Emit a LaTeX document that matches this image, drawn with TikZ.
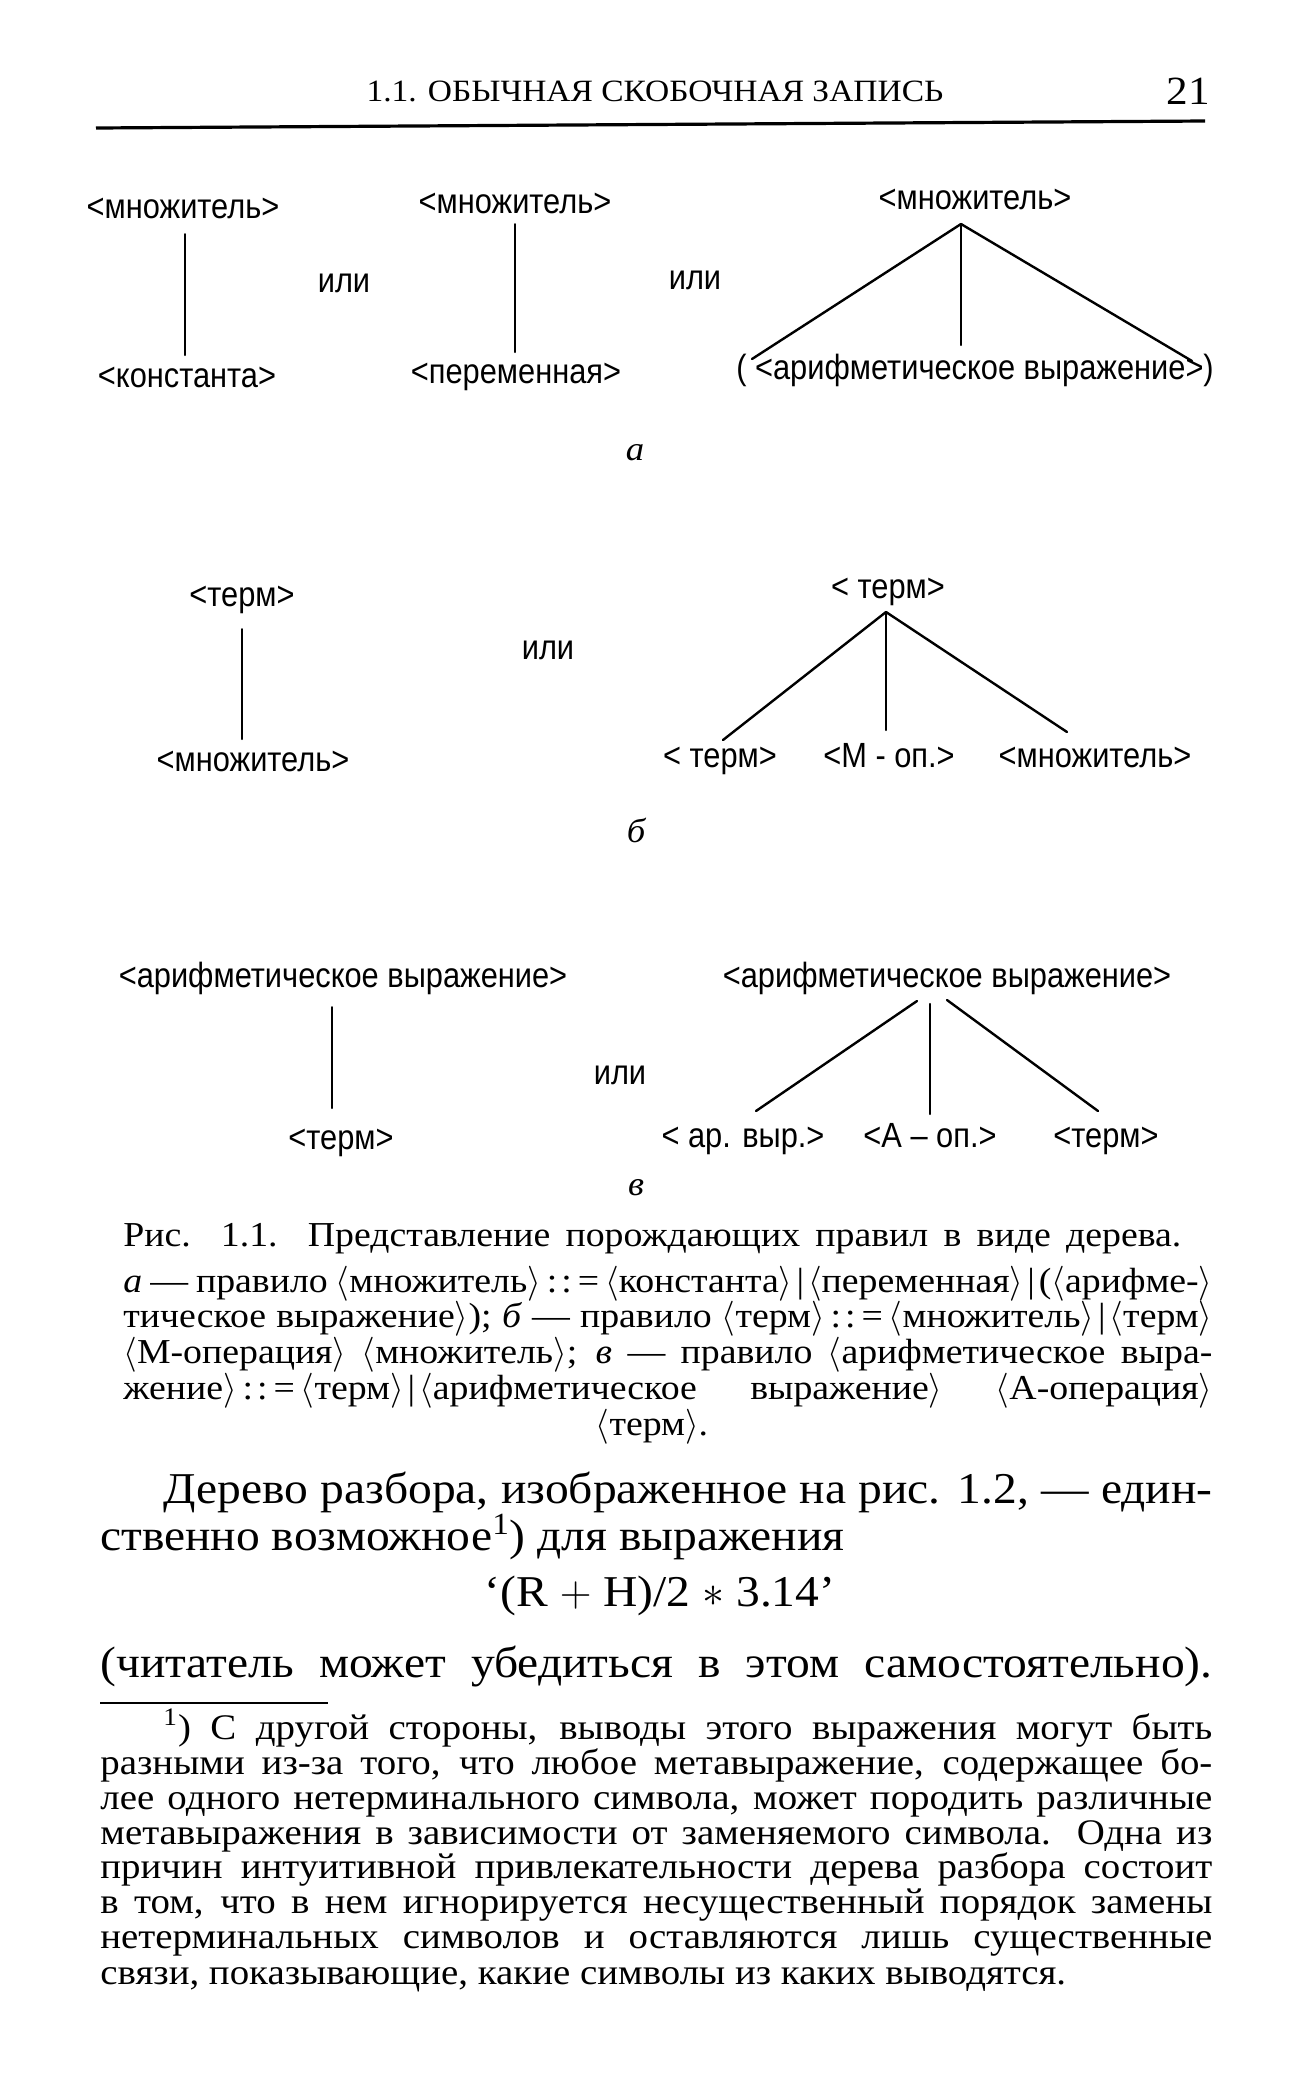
\RequirePackage{fix-cm}
\documentclass[tikz,border=0pt]{standalone}
\usepackage{fontspec}
\setmainfont{Liberation Serif}[FakeStretch=1.08]
\newfontfamily\labfont{Liberation Sans}[FakeStretch=0.88]
\newcommand\abr[1]{\(\langle\)#1\(\rangle\)}
\newcommand\myceq{\kern3pt:\kern2pt:\kern3pt=\kern3pt}
\newcommand\myvb{\kern2pt|\kern2pt}
\tikzset{
  lab/.style={font=\labfont\fontsize{17.5}{20}\selectfont, inner sep=0pt, text height=12pt, text depth=3.5pt},
  edge/.style={line width=1pt, line cap=round},
  tedge/.style={line width=1.2pt, line cap=round},
  sublab/.style={font=\itshape\fontsize{17}{20}\selectfont, inner sep=0pt},
  bodyl/.style={font=\fontsize{22}{24}\selectfont, anchor=base west, inner sep=0pt, text height=15pt, text depth=4pt},
  capl/.style={font=\fontsize{17.5}{18}\selectfont, anchor=base west, inner sep=0pt, text height=12pt, text depth=3.5pt},
  footl/.style={font=\fontsize{18}{18}\selectfont, anchor=base west, inner sep=0pt, text height=12pt, text depth=3.5pt},
}
\begin{document}
\begin{tikzpicture}[x=0.5pt,y=-0.5pt]
\fill[white] (0,0) rectangle (1300,2100);
\useasboundingbox (0,0) rectangle (1300,2100);
% header
\node[font=\fontsize{15.5}{17}\selectfont, anchor=base, inner sep=0pt] (hdr) at (655,101) {1.1. ОБЫЧНАЯ СКОБОЧНАЯ ЗАПИСЬ};
\node[font=\fontsize{20}{22}\selectfont, anchor=base, inner sep=0pt] (pg) at (1188,104) {21};
\draw[line width=1.6pt] (96,128) -- (1205,121);
% figure a
\node[lab] (mn1) at (183,210) {<множитель>};
\node[lab] (const) at (187,379) {<константа>};
\node[lab] (or1) at (344,284) {или};
\node[lab] (mn2) at (515,205) {<множитель>};
\node[lab] (per) at (516,375) {<переменная>};
\node[lab] (or2) at (695,281) {или};
\node[lab] (mn3) at (975,201) {<множитель>};
\node[lab] (arith) at (975,371) {( <арифметическое выражение>)};
\node[sublab] (suba) at (635,453) {а};
\coordinate (a1t) at (185,234); \coordinate (a1b) at (185,355);
\coordinate (a2t) at (515,224); \coordinate (a2b) at (515,352);
\coordinate (a3) at (961,224);
\coordinate (a3l) at (752,359); \coordinate (a3m) at (961,345); \coordinate (a3r) at (1192,361);
\draw[edge] (a1t) -- (a1b);
\draw[edge] (a2t) -- (a2b);
\draw[tedge] (a3) -- (a3l);
\draw[tedge] (a3) -- (a3m);
\draw[tedge] (a3) -- (a3r);
% figure b
\node[lab] (term1) at (242,598) {<терм>};
\node[lab] (mn4) at (253,763) {<множитель>};
\node[lab] (or3) at (548,651) {или};
\node[lab] (term2) at (888,590) {< терм>};
\node[lab] (bl1) at (720,759) {< терм>};
\node[lab] (bl2) at (889,759) {<М - оп.>};
\node[lab] (bl3) at (1095,759) {<множитель>};
\node[sublab] (subb) at (636,830) {б};
\coordinate (b1t) at (242,629); \coordinate (b1b) at (242,739);
\coordinate (b2) at (886,612);
\coordinate (b2l) at (723,740); \coordinate (b2m) at (886,730); \coordinate (b2r) at (1067,732);
\draw[edge] (b1t) -- (b1b);
\draw[tedge] (b2) -- (b2l);
\draw[tedge] (b2) -- (b2m);
\draw[tedge] (b2) -- (b2r);
% figure v
\node[lab] (ae1) at (343,979) {<арифметическое выражение>};
\node[lab] (term3) at (341,1141) {<терм>};
\node[lab] (or4) at (620,1076) {или};
\node[lab] (ae2) at (947,979) {<арифметическое выражение>};
\node[lab] (vl1) at (743,1139) {< ар. выр.>};
\node[lab] (vl2) at (930,1139) {<А – оп.>};
\node[lab] (vl3) at (1106,1139) {<терм>};
\node[sublab] (subv) at (636,1188) {в};
\coordinate (v1t) at (332,1007); \coordinate (v1b) at (332,1108);
\coordinate (v2a) at (917,1001); \coordinate (v2l) at (756,1111);
\coordinate (v2b) at (930,1004); \coordinate (v2m) at (930,1114);
\coordinate (v2c) at (947,1000); \coordinate (v2r) at (1098,1111);
\draw[edge] (v1t) -- (v1b);
\draw[tedge] (v2a) -- (v2l);
\draw[tedge] (v2b) -- (v2m);
\draw[tedge] (v2c) -- (v2r);
% caption
\node[capl] (c1) at (123,1246) {\makebox[529pt][s]{Рис. 1.1. Представление порождающих правил в виде дерева.}};
\node[capl] (c2) at (123,1292) {\makebox[544.5pt][s]{\textit{а} — правило \abr{множитель}\myceq\abr{константа}\myvb\abr{переменная}\myvb(\abr{арифме-}}};
\node[capl] (c3) at (123,1327) {\makebox[544.5pt][s]{тическое выражение\(\rangle\)); \textit{б} — правило \abr{терм}\myceq\abr{множитель}\myvb\abr{терм}}};
\node[capl] (c4) at (123,1363) {\makebox[544.5pt][s]{\abr{М-операция} \abr{множитель}; \textit{в} — правило \(\langle\)арифметическое выра-}};
\node[capl] (c5) at (123,1399) {\makebox[544.5pt][s]{жение\(\rangle\)\myceq\abr{терм}\myvb\abr{арифметическое выражение} \abr{А-операция}}};
\node[capl, anchor=base] (c6) at (652,1435) {\abr{терм}.};
% body
\node[bodyl] (t1) at (163,1503) {\makebox[524.5pt][s]{Дерево разбора, изображенное на рис. 1.2, — един-}};
\node[bodyl] (t2) at (100,1550) {ственно возможное\textsuperscript{1}) для выражения};
\node[bodyl, anchor=base] (t3) at (660,1606) {‘(R \(+\) H)/2 \(\ast\) 3.14’};
\node[bodyl] (t4) at (100,1677) {\makebox[556pt][s]{(читатель может убедиться в этом самостоятельно).}};
\draw[line width=1pt] (100,1703) -- (328,1703);
% footnote
\node[footl] (f1) at (163,1739) {\makebox[524.5pt][s]{\textsuperscript{1}) С другой стороны, выводы этого выражения могут быть}};
\node[footl] (f2) at (100,1774) {\makebox[556pt][s]{разными из-за того, что любое метавыражение, содержащее бо-}};
\node[footl] (f3) at (100,1809) {\makebox[556pt][s]{лее одного нетерминального символа, может породить различные}};
\node[footl] (f4) at (100,1844) {\makebox[556pt][s]{метавыражения в зависимости от заменяемого символа. Одна из}};
\node[footl] (f5) at (100,1878) {\makebox[556pt][s]{причин интуитивной привлекательности дерева разбора состоит}};
\node[footl] (f6) at (100,1913) {\makebox[556pt][s]{в том, что в нем игнорируется несущественный порядок замены}};
\node[footl] (f7) at (100,1948) {\makebox[556pt][s]{нетерминальных символов и оставляются лишь существенные}};
\node[footl] (f8) at (100,1984) {связи, показывающие, какие символы из каких выводятся.};
\end{tikzpicture}
\end{document}
